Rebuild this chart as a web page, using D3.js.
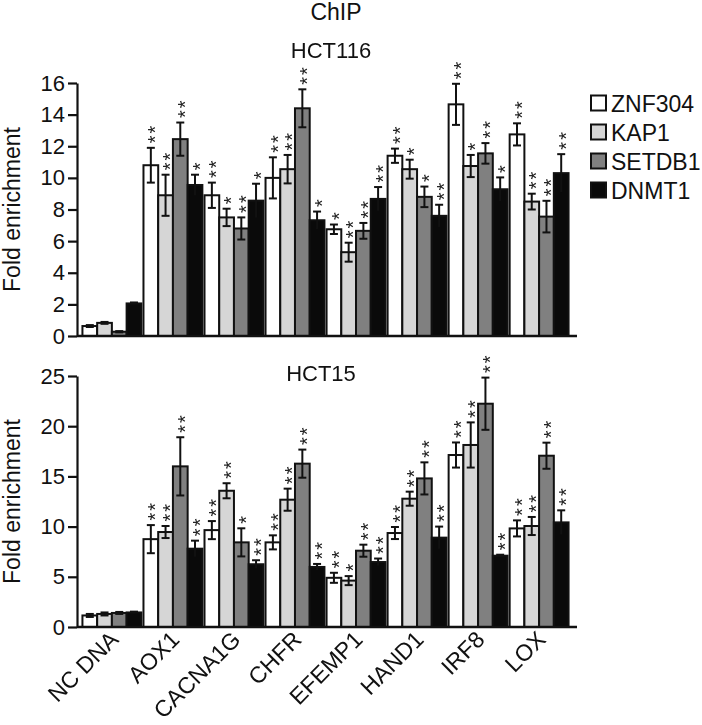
<!DOCTYPE html>
<html>
<head>
<meta charset="utf-8">
<script src="https://cdn.jsdelivr.net/npm/d3@7"></script>
<style>
  html, body { margin: 0; padding: 0; background: #fff; }
  svg { display: block; font-family: "Liberation Sans", Arial, sans-serif; }
  .stars { opacity: 0.99; will-change: transform; }
</style>
</head>
<body>
<svg id="chart" width="702" height="725"></svg>
<script>
// ---------- DATA ----------
const categories = ["NC DNA", "AOX1", "CACNA1G", "CHFR", "EFEMP1", "HAND1", "IRF8", "LOX"];
const seriesNames = ["ZNF304", "KAP1", "SETDB1", "DNMT1"];
const seriesColors = ["#ffffff", "#d6d6d6", "#808080", "#0a0a0a"];

// HCT116 (top panel)
const hct116_ZNF304 = [0.63, 10.8, 8.9, 10.0, 6.75, 11.4, 14.65, 12.75];
const hct116_KAP1   = [0.83, 8.9, 7.5, 10.55, 5.3, 10.55, 10.75, 8.5];
const hct116_SETDB1 = [0.27, 12.45, 6.8, 14.4, 6.65, 8.8, 11.55, 7.55];
const hct116_DNMT1  = [2.06, 9.55, 8.56, 7.32, 8.67, 7.6, 9.28, 10.3];
const hct116_ZNF304_err = [0.06, 1.1, 0.8, 1.3, 0.3, 0.45, 1.3, 0.7];
const hct116_KAP1_err   = [0.06, 1.3, 0.55, 0.9, 0.6, 0.6, 0.7, 0.5];
const hct116_SETDB1_err = [0.04, 1.05, 0.7, 1.2, 0.5, 0.65, 0.65, 1.0];
const hct116_DNMT1_err  = [0.06, 0.65, 1.07, 0.55, 0.75, 0.7, 0.75, 1.2];
const hct116_ZNF304_stars = [0, 2, 2, 2, 1, 2, 2, 2];
const hct116_KAP1_stars   = [0, 2, 1, 2, 2, 1, 1, 2];
const hct116_SETDB1_stars = [0, 2, 2, 2, 2, 1, 2, 2];
const hct116_DNMT1_stars  = [0, 1, 1, 1, 2, 2, 1, 2];

// HCT15 (bottom panel)
const hct15_ZNF304 = [1.15, 8.75, 9.65, 8.43, 4.9, 9.36, 17.13, 9.82];
const hct15_KAP1   = [1.3, 9.46, 13.57, 12.68, 4.62, 12.78, 18.13, 10.06];
const hct15_SETDB1 = [1.4, 16.0, 8.43, 16.27, 7.6, 14.8, 22.24, 17.06];
const hct15_DNMT1  = [1.45, 7.8, 6.25, 5.98, 6.47, 8.9, 7.1, 10.42];
const hct15_ZNF304_err = [0.15, 1.4, 0.9, 0.7, 0.5, 0.6, 1.25, 0.8];
const hct15_KAP1_err   = [0.15, 0.6, 0.75, 1.1, 0.45, 0.7, 2.25, 0.9];
const hct15_SETDB1_err = [0.1, 2.9, 1.4, 1.4, 0.6, 1.6, 2.6, 1.3];
const hct15_DNMT1_err  = [0.08, 0.8, 0.4, 0.3, 0.35, 1.1, 0.1, 1.2];
const hct15_ZNF304_stars = [0, 2, 2, 2, 2, 2, 2, 2];
const hct15_KAP1_stars   = [0, 2, 2, 2, 1, 2, 2, 2];
const hct15_SETDB1_stars = [0, 2, 1, 2, 2, 2, 2, 2];
const hct15_DNMT1_stars  = [0, 2, 2, 2, 2, 2, 2, 2];

const hct116Ticks = [0, 2, 4, 6, 8, 10, 12, 14, 16];
const hct15Ticks = [0, 5, 10, 15, 20, 25];

// ---------- BUILD ----------
const svg = d3.select("#chart");
const FONT = "Liberation Sans, Arial, sans-serif";

const x = d3.scaleBand().domain(categories).range([80, 571]).paddingInner(0.035).paddingOuter(0.04);
const xs = d3.scaleBand().domain(seriesNames).range([0, x.bandwidth()]).padding(0);
const axisX0 = 77, axisX1 = 577;

function rows(vals, errs, stars) {
  const out = [];
  categories.forEach((c, i) => {
    seriesNames.forEach((s, j) => {
      out.push({cat: c, ser: s, color: seriesColors[j], v: vals[j][i], e: errs[j][i], st: stars[j][i]});
    });
  });
  return out;
}

function panel(opts) {
  const y = d3.scaleLinear().domain(opts.domain).range(opts.range);
  const g = svg.append("g");

  // y axis
  const ax = g.append("g").attr("transform", `translate(${axisX0},0)`)
    .call(d3.axisLeft(y).tickValues(opts.ticks).tickSize(9).tickSizeOuter(0).tickPadding(3));
  ax.select(".domain").attr("stroke", "#111").attr("stroke-width", 2.2);
  ax.selectAll(".tick line").attr("stroke", "#111").attr("stroke-width", 2.2);
  ax.selectAll(".tick text").attr("font-size", 22).attr("font-family", FONT).attr("fill", "#111");

  // y label
  const midY = (opts.range[0] + opts.range[1]) / 2;
  g.append("text")
    .attr("transform", `translate(20,${midY}) rotate(-90)`)
    .attr("text-anchor", "middle")
    .attr("font-size", 23).attr("font-family", FONT).attr("fill", "#111")
    .text("Fold enrichment");

  const data = rows(opts.vals, opts.errs, opts.stars);
  const bx = d => x(d.cat) + xs(d.ser);
  const bw = xs.bandwidth();

  // bars
  g.selectAll("rect.bar").data(data).join("rect")
    .attr("class", "bar")
    .attr("x", d => bx(d))
    .attr("y", d => y(d.v))
    .attr("width", bw)
    .attr("height", d => y(0) - y(d.v))
    .attr("fill", d => d.color)
    .attr("stroke", "#111").attr("stroke-width", 2);

  // error bars
  const capW = 8;
  const eg = g.selectAll("g.err").data(data).join("g").attr("class", "err")
    .attr("stroke", "#111").attr("stroke-width", 2);
  eg.append("line")
    .attr("x1", d => bx(d) + bw / 2).attr("x2", d => bx(d) + bw / 2)
    .attr("y1", d => y(d.v - d.e)).attr("y2", d => y(d.v + d.e));
  eg.append("line")
    .attr("x1", d => bx(d) + bw / 2 - capW / 2).attr("x2", d => bx(d) + bw / 2 + capW / 2)
    .attr("y1", d => y(d.v + d.e)).attr("y2", d => y(d.v + d.e));
  eg.filter(d => d.ser !== "DNMT1").append("line")
    .attr("x1", d => bx(d) + bw / 2 - capW / 2).attr("x2", d => bx(d) + bw / 2 + capW / 2)
    .attr("y1", d => y(d.v - d.e)).attr("y2", d => y(d.v - d.e));

  // significance stars: one text per bar ("*" or "**"), run upward (rotated) so stars stack
  const fs = 20;
  g.append("g").attr("class", "stars")
    .selectAll("text.star").data(data.filter(d => d.st > 0)).join("text")
    .attr("class", "star")
    .attr("transform", d => `translate(${bx(d) + bw / 2},${y(d.v + d.e) - 4.5}) rotate(-90)`)
    .attr("x", 0).attr("y", 0.58 * fs)
    .attr("text-anchor", "start")
    .attr("letter-spacing", 2)
    .attr("font-size", fs).attr("font-family", FONT).attr("fill", "#222")
    .text(d => "*".repeat(d.st));

  // x axis line
  g.append("line")
    .attr("x1", axisX0).attr("x2", axisX1)
    .attr("y1", y(0)).attr("y2", y(0))
    .attr("stroke", "#111").attr("stroke-width", 2.5);

  // title
  g.append("text")
    .attr("x", opts.titleX).attr("y", opts.titleY)
    .attr("text-anchor", "middle")
    .attr("font-size", 22).attr("font-family", FONT).attr("fill", "#111")
    .text(opts.title);

  return y;
}

svg.append("text").attr("x", 336).attr("y", 20).attr("text-anchor", "middle")
  .attr("font-size", 23).attr("font-family", FONT).attr("fill", "#111").text("ChIP");

panel({
  domain: [0, 16], range: [336, 83], ticks: hct116Ticks,
  vals: [hct116_ZNF304, hct116_KAP1, hct116_SETDB1, hct116_DNMT1],
  errs: [hct116_ZNF304_err, hct116_KAP1_err, hct116_SETDB1_err, hct116_DNMT1_err],
  stars: [hct116_ZNF304_stars, hct116_KAP1_stars, hct116_SETDB1_stars, hct116_DNMT1_stars],
  title: "HCT116", titleX: 331, titleY: 58
});

panel({
  domain: [0, 25], range: [627, 376], ticks: hct15Ticks,
  vals: [hct15_ZNF304, hct15_KAP1, hct15_SETDB1, hct15_DNMT1],
  errs: [hct15_ZNF304_err, hct15_KAP1_err, hct15_SETDB1_err, hct15_DNMT1_err],
  stars: [hct15_ZNF304_stars, hct15_KAP1_stars, hct15_SETDB1_stars, hct15_DNMT1_stars],
  title: "HCT15", titleX: 321, titleY: 381
});

// x category labels
svg.append("g").selectAll("text").data(categories).join("text")
  .attr("transform", d => `translate(${x(d) + x.bandwidth() / 2 + 8},641) rotate(-45)`)
  .attr("text-anchor", "end")
  .attr("font-size", 23).attr("font-family", FONT).attr("fill", "#111")
  .text(d => d);

// legend
const lg = svg.append("g").attr("transform", "translate(591,0)");
const legY = [103, 132, 161, 190];
seriesNames.forEach((s, i) => {
  lg.append("rect").attr("x", 0).attr("y", legY[i] - 7.5).attr("width", 15).attr("height", 15)
    .attr("fill", seriesColors[i]).attr("stroke", "#111").attr("stroke-width", 2);
  lg.append("text").attr("x", 20).attr("y", legY[i] + 8.5)
    .attr("font-size", 23).attr("font-family", FONT).attr("fill", "#111").text(s);
});
</script>
</body>
</html>
